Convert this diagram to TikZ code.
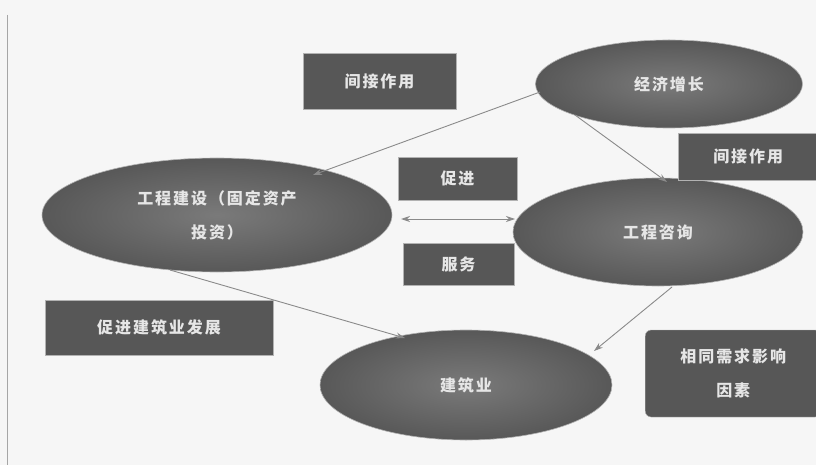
\documentclass[tikz,border=0pt]{standalone}
\usepackage{fontspec}
\newfontfamily\cjk[LetterSpace=12]{Noto Sans CJK SC}
\usetikzlibrary{shapes.geometric,arrows.meta}
\definecolor{bg}{HTML}{F6F6F6}
\definecolor{boxc}{HTML}{575757}
\definecolor{txt}{HTML}{E6E6E6}
\definecolor{arr}{HTML}{8A8A8A}
\definecolor{ovin}{HTML}{7A7A7A}
\definecolor{ovout}{HTML}{585858}
\tikzset{
  oval/.style={ellipse, draw=gray!60, line width=0.6pt, shading=radial, inner color=ovin, outer color=ovout, text=txt, font=\cjk\bfseries\fontsize{16}{34}\selectfont, align=center, inner sep=0pt},
  lbox/.style={rectangle, draw=gray!60, fill=boxc, text=txt, font=\cjk\bfseries\fontsize{16}{34}\selectfont, align=center, inner sep=0pt},
  conn/.style={draw=arr, line width=0.9pt, -{Stealth[length=9pt,width=6pt]}}
}
\begin{document}
\begin{tikzpicture}[x=1pt,y=-1pt]
\fill[bg] (0,0) rectangle (816,465);
\useasboundingbox (0,0) rectangle (816,465);
\draw[gray!70, line width=0.8pt] (7,15) -- (7,465);
% ellipses
\node[oval, minimum width=267pt, minimum height=88pt] (eco) at (669,84) {经济增长};
\node[oval, minimum width=350pt, minimum height=114pt] (gcjs) at (217,215) {工程建设（固定资产\\投资）};
\node[oval, minimum width=290pt, minimum height=108pt] (gczx) at (658,232) {工程咨询};
\node[oval, minimum width=292pt, minimum height=110pt] (jzy) at (466,385) {建筑业};
% boxes
\node[lbox, minimum width=153pt, minimum height=56pt] (b1) at (379.5,81) {间接作用};
\node[lbox, minimum width=140pt, minimum height=47pt, anchor=west] (b2) at (678,156.5) {间接作用};
\node[lbox, minimum width=119pt, minimum height=43pt] (b3) at (457.5,178.5) {促进};
\node[lbox, minimum width=111pt, minimum height=42pt] (b4) at (458.5,264) {服务};
\node[lbox, minimum width=228pt, minimum height=55pt] (b5) at (159,327.5) {促进建筑业发展};
\node[lbox, rounded corners=6pt, minimum width=176pt, minimum height=87pt, anchor=west] (b6) at (645,373.5) {相同需求影响\\因素};
% connectors
\coordinate (e1) at (540,92);
\coordinate (e2) at (575,115);
\coordinate (g1) at (313,175);
\coordinate (z1) at (667,182);
\coordinate (d1) at (401,219);
\coordinate (d2) at (515,219);
\coordinate (g2) at (170,270);
\coordinate (j1) at (405,338);
\coordinate (z2) at (672,287);
\coordinate (j2) at (594,351);
\draw[conn] (e1) -- (g1);
\draw[conn] (e2) -- (z1);
\draw[conn, {Stealth[length=9pt,width=6pt]}-{Stealth[length=9pt,width=6pt]}] (d1) -- (d2);
\draw[conn] (g2) -- (j1);
\draw[conn] (z2) -- (j2);
\end{tikzpicture}
\end{document}
